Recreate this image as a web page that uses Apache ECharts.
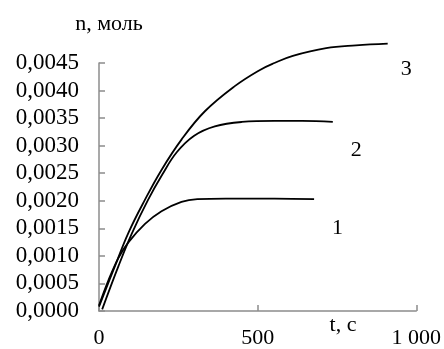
<!DOCTYPE html>
<html>
<head>
<meta charset="utf-8">
<script src="https://cdn.jsdelivr.net/npm/echarts@6/dist/echarts.min.js"></script>
<style>
  html, body { margin: 0; padding: 0; background: #fff; }
  #container { width: 444px; height: 349px; }
</style>
</head>
<body>
<div id="container"></div>
<script>
// time, s  /  amount, mol
const t1 = [0, 30, 61, 92, 145, 197, 260, 310, 400, 553, 678];
const n1 = [0.0001, 0.00056, 0.00096, 0.00124, 0.00158, 0.00181, 0.00198, 0.00203, 0.00204, 0.00204, 0.00203];

const t2 = [10, 61, 103, 155, 200, 245, 300, 365, 450, 553, 640, 737];
const n2 = [0.00003, 0.00081, 0.00140, 0.00202, 0.00248, 0.00288, 0.00318, 0.00335, 0.00343, 0.00345, 0.00345, 0.00343];

const t3 = [0, 50, 92, 145, 197, 260, 333, 428, 506, 553, 611, 716, 810, 910];
const n3 = [0.00008, 0.00081, 0.00141, 0.00202, 0.00256, 0.00311, 0.00362, 0.00408, 0.00437, 0.00450, 0.00463, 0.00477, 0.00482, 0.00485];

const curveNames = ['1', '2', '3'];
const yTicks = { min: 0, max: 0.0045, step: 0.0005 };
const xTicks = { min: 0, max: 1000, step: 500 };

const font = "'Liberation Serif', 'Times New Roman', serif";
const axisGray = '#8c8c8c';

function pairs(ts, ns) {
    return ts.map((t, i) => [t, ns[i]]);
}

function curve(name, ts, ns, offset) {
    return {
        name: name,
        type: 'line',
        data: pairs(ts, ns),
        smooth: 0.4,
        showSymbol: false,
        clip: false,
        lineStyle: { color: '#000', width: 1.8 },
        endLabel: {
            show: true,
            formatter: name,
            offset: offset,
            color: '#000',
            fontFamily: font,
            fontSize: 22
        }
    };
}

let chrt = echarts.init(document.getElementById('container'));

let option = {
    animation: false,
    backgroundColor: '#fff',
    grid: { left: 99, right: 27, top: 63, bottom: 38 },
    xAxis: {
        type: 'value',
        min: xTicks.min,
        max: xTicks.max,
        interval: xTicks.step,
        axisLine: { lineStyle: { color: axisGray, width: 1.5 } },
        axisTick: { inside: true, length: 6, lineStyle: { color: axisGray, width: 1.5 } },
        splitLine: { show: false },
        axisLabel: {
            margin: 16,
            color: '#000',
            fontFamily: font,
            fontSize: 22,
            formatter: v => v >= 1000 ? String(v).replace(/(\d)(?=(\d{3})+$)/g, '$1 ') : String(v)
        }
    },
    yAxis: {
        type: 'value',
        min: yTicks.min,
        max: yTicks.max,
        interval: yTicks.step,
        axisLine: { show: true, lineStyle: { color: axisGray, width: 1.5 } },
        axisTick: { show: true, inside: true, length: 6, lineStyle: { color: axisGray, width: 1.5 } },
        splitLine: { show: false },
        axisLabel: {
            margin: 20,
            color: '#000',
            fontFamily: font,
            fontSize: 23,
            formatter: v => v.toFixed(4).replace('.', ',')
        }
    },
    graphic: [
        {
            type: 'text', x: 109, y: 24,
            style: { text: 'n, моль', fill: '#000', font: '22px ' + font, textAlign: 'center', textVerticalAlign: 'middle' }
        },
        {
            type: 'text', x: 343, y: 325,
            style: { text: 't, с', fill: '#000', font: '22px ' + font, textAlign: 'center', textVerticalAlign: 'middle' }
        }
    ],
    series: [
        curve(curveNames[0], t1, n1, [10, 29]),
        curve(curveNames[1], t2, n2, [10, 28]),
        curve(curveNames[2], t3, n3, [5, 26])
    ]
};

chrt.setOption(option);
</script>
</body>
</html>
